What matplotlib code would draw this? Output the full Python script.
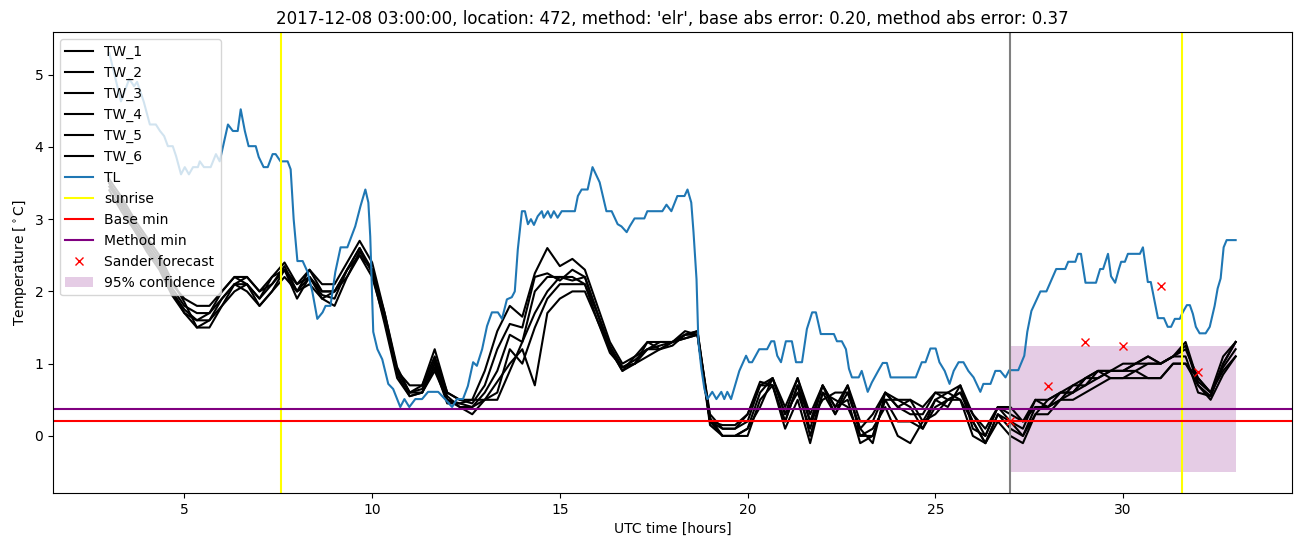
import numpy as np
import matplotlib.pyplot as plt

# TL observations (hours, degC)
tl_time = [3.0, 3.31, 3.53, 3.66, 3.74, 3.92, 4.08, 4.24, 4.35, 4.46, 4.56, 4.69, 4.78, 4.91,
           5.01, 5.12, 5.23, 5.36, 5.41, 5.52, 5.7, 5.84, 5.94, 6.16, 6.29, 6.42, 6.5, 6.61,
           6.71, 6.9, 6.98, 7.11, 7.22, 7.35, 7.43, 7.56, 7.75, 7.83, 7.91, 8.01, 8.15, 8.28,
           8.41, 8.54, 8.68, 8.76, 8.89, 9.02, 9.16, 9.34, 9.55, 9.69, 9.82, 9.9, 9.95, 10.03,
           10.14, 10.27, 10.43, 10.56, 10.75, 10.86, 10.99, 11.15, 11.33, 11.49, 11.76, 11.94,
           12.13, 12.26, 12.42, 12.55, 12.69, 12.79, 12.93, 13.06, 13.19, 13.35, 13.46, 13.59,
           13.72, 13.8, 13.88, 13.99, 14.07, 14.15, 14.23, 14.31, 14.41, 14.52, 14.57, 14.68,
           14.76, 14.84, 14.94, 15.05, 15.4, 15.48, 15.58, 15.74, 15.87, 16.06, 16.24, 16.38,
           16.54, 16.64, 16.78, 16.86, 16.99, 17.25, 17.33, 17.73, 17.84, 17.97, 18.13, 18.32,
           18.4, 18.5, 18.56, 18.64, 18.69, 18.77, 18.85, 18.93, 19.06, 19.17, 19.3, 19.38,
           19.46, 19.56, 19.78, 19.96, 20.04, 20.12, 20.31, 20.52, 20.63, 20.71, 20.79, 20.89,
           21.02, 21.18, 21.29, 21.45, 21.58, 21.72, 21.82, 21.95, 22.3, 22.38, 22.51, 22.62,
           22.7, 22.78, 22.96, 23.04, 23.2, 23.31, 23.49, 23.6, 23.71, 23.81, 24.48, 24.64,
           24.74, 24.87, 25.01, 25.11, 25.25, 25.38, 25.49, 25.62, 25.75, 25.88, 26.02, 26.1,
           26.2, 26.28, 26.47, 26.6, 26.73, 26.87, 26.97, 27.21, 27.37, 27.45, 27.56, 27.8,
           27.96, 28.22, 28.46, 28.54, 28.73, 28.8, 28.88, 29.0, 29.28, 29.39, 29.47, 29.6,
           29.68, 29.79, 29.89, 29.95, 30.05, 30.13, 30.45, 30.53, 30.66, 30.74, 30.93, 31.09,
           31.19, 31.28, 31.38, 31.51, 31.59, 31.7, 31.78, 31.86, 31.94, 32.04, 32.2, 32.31,
           32.44, 32.52, 32.6, 32.68, 32.76, 33.0]
tl_vals = [5.3, 4.63, 4.94, 4.84, 4.9, 4.62, 4.31, 4.31, 4.22, 4.15, 4.01, 4.01, 3.87, 3.62,
           3.72, 3.62, 3.72, 3.72, 3.8, 3.72, 3.72, 3.9, 3.8, 4.31, 4.22, 4.22, 4.52, 4.22,
           4.01, 4.01, 3.86, 3.72, 3.72, 3.9, 3.9, 3.8, 3.8, 3.69, 3.0, 2.42, 2.42, 2.27,
           1.99, 1.62, 1.71, 1.8, 1.8, 2.27, 2.61, 2.61, 2.9, 3.18, 3.41, 3.23, 2.76, 1.44,
           1.2, 1.06, 0.72, 0.65, 0.4, 0.51, 0.4, 0.51, 0.51, 0.61, 0.61, 0.51,
           0.4, 0.51, 0.51, 0.69, 1.02, 0.97, 1.2, 1.52, 1.71, 1.71, 1.62, 1.89,
           1.92, 2.0, 2.58, 3.11, 3.11, 2.93, 3.0, 2.92, 3.04, 3.11, 3.02, 3.11,
           3.02, 3.11, 3.02, 3.11, 3.11, 3.32, 3.41, 3.41, 3.72, 3.51, 3.11, 3.11,
           2.93, 2.9, 2.82, 2.9, 3.01, 3.01, 3.11, 3.11, 3.2, 3.11, 3.32, 3.32,
           3.41, 3.23, 2.82, 2.17, 1.3, 0.93, 0.65, 0.51, 0.61, 0.51, 0.61, 0.51,
           0.61, 0.51, 0.9, 1.11, 1.02, 1.02, 1.2, 1.2, 1.31, 1.31, 1.11, 1.02,
           1.31, 1.31, 1.02, 1.02, 1.48, 1.71, 1.71, 1.41, 1.41, 1.31, 1.31, 1.2,
           0.93, 0.81, 0.81, 0.9, 0.61, 0.74, 0.91, 1.01, 1.01, 0.81, 0.81, 1.02,
           1.02, 1.21, 1.21, 1.02, 0.9, 0.72, 0.9, 1.02, 1.02, 0.9, 0.81, 0.72,
           0.61, 0.72, 0.72, 0.9, 0.9, 0.81, 0.91, 0.91, 1.11, 1.44, 1.73, 2.0,
           2.0, 2.31, 2.31, 2.41, 2.41, 2.52, 2.52, 2.12, 2.12, 2.31, 2.31, 2.52,
           2.21, 2.12, 2.31, 2.41, 2.41, 2.52, 2.52, 2.61, 2.13, 2.13, 1.63, 1.63,
           1.51, 1.51, 1.62, 1.62, 1.71, 1.81, 1.81, 1.69, 1.51, 1.42, 1.42, 1.51,
           1.8, 2.04, 2.18, 2.61, 2.71, 2.71]

# TW sensors, every 20 minutes from 03:00 to 33:00
tw_time = np.linspace(3, 33, 91)
tw_1 = [3.5, 3.25, 2.95, 2.7, 2.45, 2.1,
        1.9, 1.8, 1.8, 2.0, 2.2, 2.2,
        2.0, 2.2, 2.4, 2.1, 2.3, 2.1,
        2.1, 2.4, 2.7, 2.4, 1.7, 0.9,
        0.7, 0.7, 1.2, 0.6, 0.5, 0.5,
        0.9, 1.45, 1.8, 1.65, 2.25, 2.6,
        2.35, 2.45, 2.3, 1.8, 1.3, 1.0,
        1.1, 1.3, 1.3, 1.3, 1.45, 1.4,
        0.3, 0.1, 0.1, 0.3, 0.7, 0.8,
        0.4, 0.8, 0.3, 0.7, 0.4, 0.7,
        0.2, 0.2, 0.6, 0.4, 0.5, 0.4,
        0.6, 0.6, 0.7, 0.3, 0.1, 0.4,
        0.4, 0.2, 0.5, 0.4, 0.6, 0.7,
        0.8, 0.9, 0.9, 0.9, 1.0, 1.1,
        1.0, 1.1, 1.3, 0.75, 0.6, 1.1,
        1.3]
tw_2 = [3.45, 3.2, 2.9, 2.65, 2.4, 2.05,
        1.8, 1.7, 1.7, 1.9, 2.1, 2.2,
        2.0, 2.1, 2.35, 2.0, 2.3, 2.0,
        2.0, 2.3, 2.6, 2.3, 1.6, 0.9,
        0.6, 0.7, 1.1, 0.6, 0.5, 0.45,
        0.7, 1.2, 1.55, 1.5, 2.2, 2.25,
        2.15, 2.3, 2.2, 1.7, 1.25, 0.95,
        1.05, 1.2, 1.3, 1.3, 1.4, 1.45,
        0.25, 0.0, 0.0, 0.1, 0.6, 0.8,
        0.3, 0.6, 0.1, 0.7, 0.4, 0.5,
        -0.1, 0.0, 0.5, 0.2, 0.2, 0.1,
        0.4, 0.5, 0.6, 0.2, -0.1, 0.3,
        0.1, 0.0, 0.4, 0.4, 0.5, 0.6,
        0.7, 0.8, 0.9, 0.9, 1.0, 1.0,
        1.0, 1.1, 1.25, 0.7, 0.55, 1.0,
        1.3]
tw_3 = [3.5, 3.15, 2.85, 2.6, 2.35, 2.0,
        1.75, 1.6, 1.6, 1.8, 2.1, 2.1,
        1.9, 2.1, 2.3, 2.0, 2.2, 1.95,
        1.9, 2.3, 2.5, 2.2, 1.6, 0.85,
        0.55, 0.6, 1.0, 0.5, 0.45, 0.4,
        0.6, 0.9, 1.4, 1.3, 2.0, 2.2,
        2.2, 2.15, 2.2, 1.7, 1.2, 0.9,
        1.0, 1.3, 1.2, 1.3, 1.35, 1.4,
        0.2, 0.1, 0.1, 0.2, 0.7, 0.7,
        0.2, 0.7, 0.0, 0.6, 0.3, 0.6,
        0.1, -0.1, 0.6, 0.5, 0.5, 0.2,
        0.5, 0.4, 0.7, 0.1, 0.0, 0.4,
        0.2, 0.1, 0.5, 0.5, 0.6, 0.6,
        0.8, 0.9, 0.8, 0.8, 0.8, 0.8,
        0.8, 1.0, 1.0, 0.8, 0.6, 0.9,
        1.1]
tw_4 = [3.55, 3.3, 3.0, 2.75, 2.5, 2.15,
        1.85, 1.5, 1.5, 1.8, 2.0, 2.1,
        1.8, 2.0, 2.3, 1.9, 2.2, 1.9,
        1.8, 2.2, 2.5, 2.3, 1.7, 0.95,
        0.6, 0.65, 1.05, 0.55, 0.4, 0.3,
        0.5, 0.75, 1.0, 1.2, 0.7, 1.7,
        1.9, 2.0, 2.0, 1.6, 1.2, 0.9,
        1.1, 1.2, 1.2, 1.3, 1.4, 1.4,
        0.2, 0.0, 0.0, 0.0, 0.5, 0.7,
        0.1, 0.5, -0.1, 0.6, 0.5, 0.4,
        0.0, 0.1, 0.4, 0.0, -0.1, 0.2,
        0.3, 0.5, 0.5, 0.0, -0.1, 0.2,
        0.0, -0.1, 0.3, 0.3, 0.5, 0.5,
        0.6, 0.7, 0.8, 0.8, 0.9, 0.8,
        0.8, 1.0, 1.0, 0.7, 0.5, 0.85,
        1.1]
tw_5 = [3.4, 3.1, 2.85, 2.55, 2.3, 1.95,
        1.7, 1.5, 1.6, 1.9, 2.1, 2.0,
        1.8, 2.0, 2.2, 2.0, 2.1, 1.9,
        2.0, 2.2, 2.55, 2.3, 1.65, 0.9,
        0.6, 0.6, 0.9, 0.5, 0.4, 0.4,
        0.5, 0.6, 1.2, 1.0, 1.5, 1.9,
        2.1, 2.1, 2.1, 1.7, 1.2, 0.95,
        1.0, 1.2, 1.25, 1.3, 1.35, 1.4,
        0.15, 0.0, 0.0, 0.1, 0.4, 0.8,
        0.3, 0.8, 0.2, 0.5, 0.6, 0.6,
        0.1, 0.3, 0.6, 0.4, 0.3, 0.3,
        0.6, 0.5, 0.6, 0.3, 0.0, 0.4,
        0.3, 0.2, 0.4, 0.4, 0.5, 0.7,
        0.7, 0.9, 0.9, 0.9, 0.9, 1.0,
        1.0, 1.1, 1.1, 0.6, 0.55, 1.0,
        1.3]
tw_6 = [3.5, 3.2, 2.9, 2.6, 2.35, 2.0,
        1.7, 1.6, 1.7, 2.0, 2.2, 2.1,
        1.9, 2.2, 2.3, 2.1, 2.2, 2.0,
        2.0, 2.3, 2.6, 2.25, 1.55, 0.8,
        0.55, 0.6, 0.95, 0.45, 0.45, 0.5,
        0.5, 0.5, 0.9, 1.3, 1.7, 2.0,
        2.2, 2.2, 2.1, 1.6, 1.15, 0.95,
        1.0, 1.1, 1.2, 1.25, 1.4, 1.45,
        0.2, 0.15, 0.15, 0.3, 0.75, 0.7,
        0.2, 0.7, 0.2, 0.7, 0.3, 0.7,
        0.0, 0.0, 0.5, 0.5, 0.4, 0.1,
        0.5, 0.6, 0.5, 0.2, -0.1, 0.3,
        0.2, 0.0, 0.3, 0.5, 0.6, 0.6,
        0.8, 0.8, 0.9, 1.0, 1.0, 1.1,
        1.0, 1.1, 1.2, 0.8, 0.6, 0.95,
        1.2]
tw_series = [tw_1, tw_2, tw_3, tw_4, tw_5, tw_6]

sunrise = [7.56, 31.57]
forecast_start = 27
base_min = 0.2
method_min = 0.37
sander_time = [27, 28, 29, 30, 31, 32]
sander_vals = [0.21, 0.69, 1.3, 1.24, 2.07, 0.88]
conf_time = [27, 33]
conf_low = -0.5
conf_high = 1.25

fig = plt.figure(figsize=(13.02, 5.47), dpi=100)
for i, tw in enumerate(tw_series):
    plt.plot(tw_time, tw, color='black', label=f'TW_{i + 1}')
plt.plot(tl_time, tl_vals, color='tab:blue', label='TL')
plt.axvline(sunrise[0], color='yellow', label='sunrise')
plt.axvline(sunrise[1], color='yellow')
plt.axhline(base_min, color='red', label='Base min')
plt.axhline(method_min, color='purple', label='Method min')
plt.axvline(forecast_start, color='gray')
plt.plot(sander_time, sander_vals, 'rx', label='Sander forecast')
plt.fill_between(conf_time, conf_low, conf_high, color='purple', alpha=0.2,
                 linewidth=0, label='95% confidence')

plt.title("2017-12-08 03:00:00, location: 472, method: 'elr', "
          "base abs error: 0.20, method abs error: 0.37")
plt.xlabel('UTC time [hours]')
plt.ylabel(r'Temperature [$^\circ$C]')
plt.legend(loc='upper left')
plt.subplots_adjust(left=0.0407, right=0.9923, top=0.9415, bottom=0.0987)

plt.savefig('out.png')
